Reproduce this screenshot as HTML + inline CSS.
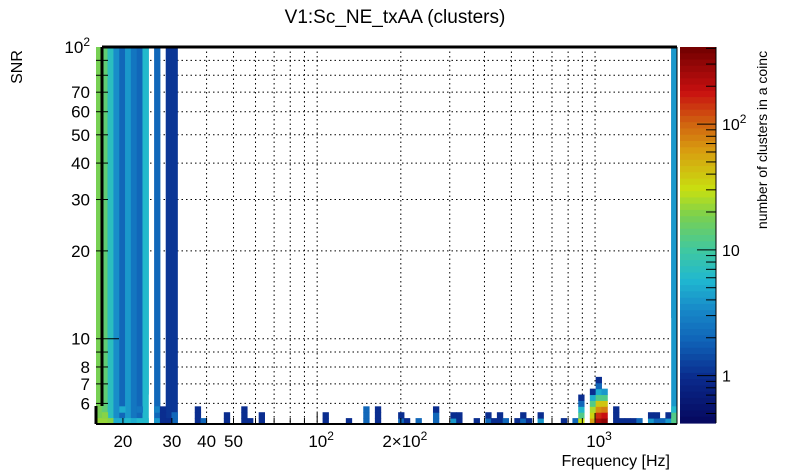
<!DOCTYPE html>
<html><head><meta charset="utf-8"><style>
html,body{margin:0;padding:0;background:#fff;}
svg{display:block;font-family:"Liberation Sans",sans-serif;}
</style></head><body>
<svg id="chart" width="805" height="472" xmlns="http://www.w3.org/2000/svg">
<rect width="805" height="472" fill="#fff"/>
<text x="395" y="23" font-size="19" text-anchor="middle">V1:Sc_NE_txAA (clusters)</text>
<text transform="translate(22,67) rotate(-90)" font-size="16" text-anchor="middle">SNR</text>
<text x="670" y="466" font-size="16" text-anchor="end">Frequency [Hz]</text>
<text transform="translate(767,140) rotate(-90)" font-size="14" text-anchor="middle">number of clusters in a coinc</text>
<g id="grid"></g><g id="cells"></g><g id="axes"></g><g id="cbar"></g>
</svg>
<script>
const xTicksMajor=[20,30,40,50,100,200,1000];
const xTickLabels=["20","30","40","50","10^2","2×10^2","10^3"];
const yTickVals=[6,7,8,10,20,30,40,50,60,70,100];
const yTickLabels=["6","7","8","10","20","30","40","50","60","70","10^2"];
const zTickVals=[1,10,100];
const zTickLabels=["1","10","10^2"];
// tall columns: [frequency Hz, count, lowest SNR filled up to top]
const tallFreq=[16.5,17.3,17.9,17.9,18.8,19.8,20.8,20.8,21.8,22.8,23.9,23.9,26.3,29.1,30.4,1925,1925];
const tallCount=[18,14,4.5,7,3.5,2,3,4,2.5,2,4.5,6,2,1.1,1.1,2,4];
const tallFrom=[5.1,5.1,10.3,5.1,5.1,5.1,7.2,5.1,5.1,5.1,6.6,5.1,5.1,5.1,5.1,12,5.1];
// bottom cells: frequency, SNR, count
const cellFreq=[16.5,17.3,17.9,17.3,18.8,19.8,19.8,20.8,21.8,22.8,22.8,23.9,26.3,26.3,27.7,27.7,27.7,29.1,30.4,30.4,37,37,37,38.8,47.2,47.2,54.5,54.5,54.5,57.4,62.8,62.8,106.9,106.9,129,150,150,150,164.7,164.7,164.7,199,199,209,231,273,273,273,309,309,323,323,373,411,411,431,453,453,476,522,549,549,577,635,635,772,845,889,889,889,889,889,984,984,984,984,984,984,1030,1030,1030,1030,1030,1030,1030,1030,1076,1076,1076,1076,1076,1076,1188,1188,1188,1250,1313,1379,1440,1590,1590,1673,1673,1750,1830,1830,1925,1925,1925];
const cellSnr=[5.2,5.2,5.2,5.45,5.2,5.2,5.7,5.2,5.2,5.2,5.7,5.2,5.2,5.7,5.2,5.45,5.7,5.2,5.2,5.45,5.2,5.45,5.7,5.2,5.2,5.45,5.2,5.45,5.7,5.2,5.2,5.45,5.2,5.45,5.2,5.2,5.45,5.7,5.2,5.45,5.7,5.2,5.45,5.2,5.2,5.2,5.45,5.7,5.2,5.45,5.2,5.45,5.2,5.2,5.45,5.2,5.2,5.45,5.2,5.2,5.2,5.45,5.2,5.2,5.45,5.2,5.2,5.2,5.45,5.7,5.98,6.27,5.2,5.45,5.7,5.98,6.27,6.58,5.2,5.45,5.7,5.98,6.27,6.58,6.89,7.23,5.2,5.45,5.7,5.98,6.27,6.58,5.2,5.45,5.7,5.2,5.2,5.2,5.2,5.2,5.45,5.2,5.45,5.2,5.2,5.45,5.2,5.45,5.7];
const cellCount=[22,22,20,20,5,5,5,6,5,6,2.5,6,4,3,1,1,1,1,2,2,1,1,1,2,1,1,1,1,1,1,1,1,1,1,1,2,2,2,1,1,1,2,1,1,2,2,2,1,4,1,1,1,1,2,1,1,1,1,2,1,2,1,1,4,1,1,2,30,12,6,2,1,60,35,25,12,5,1,250,150,70,40,12,5,2,1,300,180,80,40,12,4,1,1,1,1,1,1,2,4,1,2,1,2,4,1,12,12,6];

const X0=96,X1=677,Y0=47,Y1=424,FMIN=16,FMAX=1972,SMIN=5.1,SMAX=100;
const NX=100,NY=64;
const lx=Math.log10;
function xs(f){return X0+(lx(f)-lx(FMIN))/(lx(FMAX)-lx(FMIN))*(X1-X0);}
function ys(s){return Y1-(lx(s)-lx(SMIN))/(lx(SMAX)-lx(SMIN))*(Y1-Y0);}
const ZMIN=0.42,ZMAX=410,CB0=Y0,CB1=423;
function zs(z){return CB1-(lx(z)-lx(ZMIN))/(lx(ZMAX)-lx(ZMIN))*(CB1-CB0);}
const stops=[[0,[6,8,94]],[0.12,[10,42,140]],[0.22,[16,100,184]],[0.3,[23,136,200]],[0.38,[32,184,208]],[0.46,[64,200,160]],[0.55,[122,208,80]],[0.62,[200,224,16]],[0.72,[216,160,16]],[0.8,[208,96,16]],[0.88,[200,16,16]],[1,[112,0,0]]];
function col(z){let t=(lx(z)-lx(ZMIN))/(lx(ZMAX)-lx(ZMIN));t=Math.max(0,Math.min(1,t));
 for(let i=1;i<stops.length;i++){if(t<=stops[i][0]){const a=stops[i-1],b=stops[i],u=(t-a[0])/(b[0]-a[0]);
 const c=a[1].map((v,k)=>Math.round(v+(b[1][k]-v)*u));return `rgb(${c})`;}}return 'rgb(112,0,0)';}
function binX(f){const i=Math.floor((lx(f)-lx(FMIN))/(lx(FMAX)-lx(FMIN))*NX);return [X0+i*(X1-X0)/NX,X0+(i+1)*(X1-X0)/NX];}
function binY(s){const j=Math.floor((lx(s)-lx(SMIN))/(lx(SMAX)-lx(SMIN))*NY);return [Y1-(j+1)*(Y1-Y0)/NY,Y1-j*(Y1-Y0)/NY];}
const NS='http://www.w3.org/2000/svg';
function mk(p,tag,at){const e=document.createElementNS(NS,tag);for(const k in at)e.setAttribute(k,at[k]);p.appendChild(e);return e;}
const grid=document.getElementById('grid'),cells=document.getElementById('cells'),axes=document.getElementById('axes'),cbar=document.getElementById('cbar');
const xGrid=[],yGrid=[];
for(let d=10;d<=1000;d*=10)for(let m=1;m<10;m++){const v=d*m;if(v>FMIN&&v<FMAX)xGrid.push(v);}
[6,7,8,9,10,20,30,40,50,60,70,80,90].forEach(v=>yGrid.push(v));
xGrid.forEach(v=>{const g=mk(grid,'line',{x1:xs(v),x2:xs(v),y1:Y0,y2:Y1,stroke:'#000','stroke-width':1,'stroke-dasharray':'1.5,3'});

});
yGrid.forEach(v=>{const g=mk(grid,'line',{x1:X0,x2:X1,y1:ys(v),y2:ys(v),stroke:'#000','stroke-width':1,'stroke-dasharray':'1.5,3'});

});
tallFreq.forEach((f,i)=>{const [a,b]=binX(f);const yt=Y0,yb=binY(tallFrom[i])[1];
const r=mk(cells,'rect',{x:a,y:yt,width:b-a+0.5,height:yb-yt,fill:col(tallCount[i])});

});
cellFreq.forEach((f,i)=>{const [a,b]=binX(f);const [t,bt]=binY(cellSnr[i]);
const r=mk(cells,'rect',{x:a,y:t,width:b-a+0.5,height:bt-t+0.5,fill:col(cellCount[i])});

});
mk(axes,'line',{x1:X0+6,x2:X1,y1:Y0,y2:Y0,stroke:'#000','stroke-width':3});
mk(axes,'line',{x1:X0+6,x2:X0+6,y1:Y0,y2:406,stroke:'#000','stroke-width':3});
mk(axes,'line',{x1:X0,x2:X0,y1:406,y2:Y1,stroke:'#000','stroke-width':3});
mk(axes,'line',{x1:X0,x2:X1,y1:Y1,y2:Y1,stroke:'#000','stroke-width':2});
mk(axes,'line',{x1:X1,x2:X1,y1:Y0,y2:Y1,stroke:'#000','stroke-width':1});
xGrid.forEach(v=>{const maj=[10,100,1000].includes(v);mk(axes,'line',{x1:xs(v),x2:xs(v),y1:Y1,y2:Y1-(maj?11:6),stroke:'#000','stroke-width':1});});
yGrid.forEach(v=>{mk(axes,'line',{x1:X0,x2:X0+([10,100].includes(v)?23:12),y1:ys(v),y2:ys(v),stroke:'#000','stroke-width':1});});
function lbl(p,x,y,s,anchor,name,fs){const t=mk(p,'text',{x:x,y:y,'font-size':fs,'text-anchor':anchor});
 if(s.includes('^')){const [b,e]=s.split('^');t.textContent=b;const sp=mk(t,'tspan',{dy:-7,'font-size':12});sp.textContent=e;}else t.textContent=s;
 
 }
xTicksMajor.forEach((v,i)=>lbl(axes,xs(v)+(xTickLabels[i].includes('^')?4:0),447,xTickLabels[i],'middle','x-tick-label',17));
yTickVals.forEach((v,i)=>lbl(axes,90,ys(v)+6,yTickLabels[i],'end','y-tick-label',17));
const CX0=680,CX1=716;
for(let k=0;k<60;k++){const y0=CB0+k*(CB1-CB0)/60,y1=CB0+(k+1)*(CB1-CB0)/60;
 const z=Math.pow(10,lx(ZMAX)-(k+0.5)/60*(lx(ZMAX)-lx(ZMIN)));
 mk(cbar,'rect',{x:CX0,y:y0,width:CX1-CX0,height:y1-y0+0.6,fill:col(z)});}
mk(cbar,'line',{x1:CX1,x2:CX1,y1:CB0,y2:CB1,stroke:'#000','stroke-width':1});
for(let d=0.1;d<=100;d*=10)for(let m=1;m<10;m++){const v=d*m;if(v>ZMIN&&v<ZMAX){const maj=m===1;
 mk(cbar,'line',{x1:CX1,x2:CX1-(maj?19:10),y1:zs(v),y2:zs(v),stroke:'#000','stroke-width':1});}}
zTickVals.forEach((v,i)=>lbl(cbar,722,zs(v)+6,zTickLabels[i],'start','colorbar-tick-label',16));
</script>
</body></html>
